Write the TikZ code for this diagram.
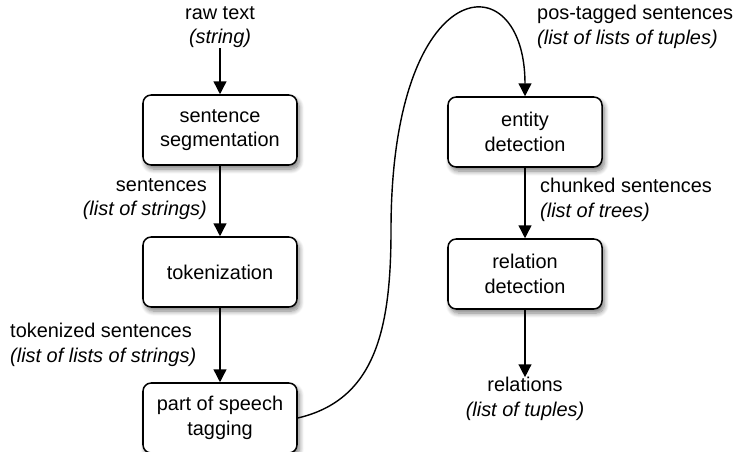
\documentclass[tikz,border=0pt]{standalone}
\usepackage{fontspec}
\setmainfont{Liberation Sans}
\usetikzlibrary{arrows.meta, positioning, shadows.blur}

\begin{document}
\begin{tikzpicture}[x=0.03cm, y=-0.03cm,
    stage/.style={draw, line width=1.3pt, rounded corners=7pt, fill=white,
        minimum width=4.62cm, minimum height=2.1cm, align=center,
        blur shadow={shadow xshift=2pt, shadow yshift=-3.5pt, shadow blur radius=4pt,
            shadow blur steps=8, shadow opacity=50}},
    lbl/.style={align=left, inner sep=0pt},
    arr/.style={-{Triangle[length=11pt, width=11pt]}, line width=1.2pt},
    font=\fontsize{17}{21}\selectfont]
\useasboundingbox (0,0) rectangle (741,451);

% Left column
\node[lbl, align=center] (raw) at (220,27) {raw text\\\textit{(string)}};
\node[stage] (seg) at (220,130) {sentence\\segmentation};
\node[stage] (tok) at (220,272) {tokenization};
\node[stage] (tag) at (220,418) {part of speech\\tagging};

\node[lbl, anchor=east, align=right] (sents) at (207,199) {sentences\\\textit{(list of strings)}};
\node[lbl, anchor=west] (toks) at (10,345) {tokenized sentences\\\textit{(list of lists of strings)}};

\draw[arr] (raw) -- (seg);
\draw[arr] (seg) -- (tok);
\draw[arr] (tok) -- (tag);

% Right column
\node[stage] (ent) at (525,132) {entity\\detection};
\node[stage] (rel) at (525,274) {relation\\detection};
\node[lbl, align=center] (rels) at (525,399) {relations\\\textit{(list of tuples)}};

\node[lbl, anchor=west] (pos) at (537,27) {pos-tagged sentences\\\textit{(list of lists of tuples)}};
\node[lbl, anchor=west] (chunk) at (540,200) {chunked sentences\\\textit{(list of trees)}};

\draw[arr] (ent) -- (rel);
\draw[arr] (rel) -- (rels);

% Long connector from tagging up to entity detection
\coordinate (bend) at (391,230);
\draw[arr] (tag.east) .. controls (375,400) and (391,330) .. (bend)
    .. controls (391,-30) and (525,-40) .. (ent.north);
\end{tikzpicture}
\end{document}
